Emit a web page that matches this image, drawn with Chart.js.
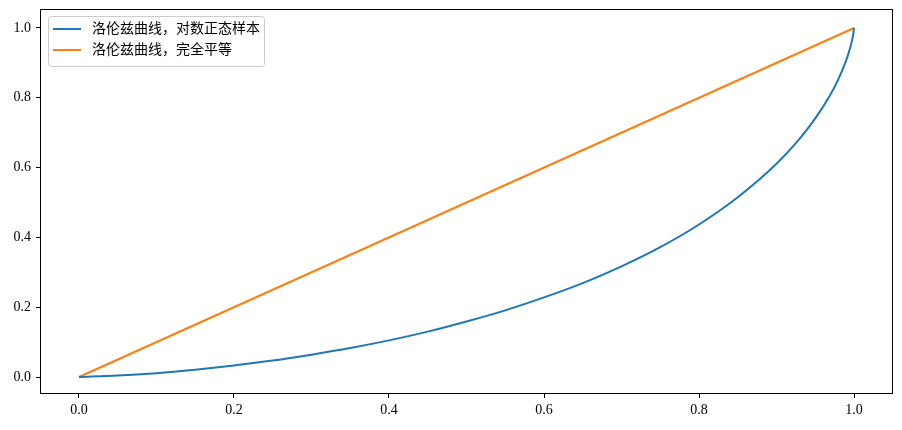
<!DOCTYPE html>
<html>
<head>
<meta charset="utf-8">
<script src="https://cdn.jsdelivr.net/npm/chart.js@4"></script>
<style>
  html, body { margin: 0; padding: 0; background: #fff; }
  #wrap { width: 902px; height: 430px; }
</style>
</head>
<body>
<div id="wrap"><canvas id="grafico"></canvas></div>
<script>
// dados
const nomes = ['洛伦兹曲线，对数正态样本', '洛伦兹曲线，完全平等'];
const cores = ['#1f77b4', '#ff7f0e'];

const xLorenz = [0, 0.05, 0.1, 0.15, 0.2, 0.25, 0.3, 0.35, 0.4, 0.45, 0.5, 0.55, 0.6,
  0.65, 0.7, 0.75, 0.8, 0.85, 0.9, 0.925, 0.95, 0.97, 0.98, 0.99, 0.995, 0.999, 1.0];
const yLorenz = [0, 0.004, 0.011, 0.021, 0.033, 0.047, 0.064, 0.083, 0.105, 0.130, 0.159, 0.191, 0.228,
  0.269, 0.317, 0.372, 0.437, 0.515, 0.611, 0.670, 0.741, 0.811, 0.854, 0.908, 0.943, 0.982, 1.0];

const xIgual = [0, 1];
const yIgual = [0, 1];

const ticksX = [0.0, 0.2, 0.4, 0.6, 0.8, 1.0];
const ticksY = [0.0, 0.2, 0.4, 0.6, 0.8, 1.0];

const fonte = "'Liberation Serif', 'DejaVu Serif', 'Noto Sans CJK SC', serif";

function pontos(xs, ys) {
  let out = [];
  for (let i = 0; i < xs.length; i++) {
    out.push({ x: xs[i], y: ys[i] });
  }
  return out;
}

// moldura + legenda no estilo matplotlib
const moldura = {
  id: 'moldura',
  afterDraw(chart) {
    const ctx = chart.ctx;
    const a = chart.chartArea;
    ctx.save();
    ctx.strokeStyle = '#000';
    ctx.lineWidth = 1;
    ctx.strokeRect(Math.round(a.left) + 0.5, Math.round(a.top) + 0.5,
      Math.round(a.right - a.left) - 1, Math.round(a.bottom - a.top) - 1);

    // legenda
    const bx = a.left + 8, by = a.top + 7, bw = 216, bh = 50;
    ctx.beginPath();
    ctx.roundRect(bx + 0.5, by + 0.5, bw, bh, 3);
    ctx.fillStyle = 'rgba(255,255,255,0.8)';
    ctx.fill();
    ctx.strokeStyle = '#cccccc';
    ctx.stroke();
    ctx.font = "14px " + fonte;
    ctx.textBaseline = 'middle';
    ctx.textAlign = 'left';
    chart.data.datasets.forEach((ds, i) => {
      const yy = by + 13 + i * 21;
      ctx.beginPath();
      ctx.moveTo(bx + 5, yy);
      ctx.lineTo(bx + 33, yy);
      ctx.strokeStyle = ds.borderColor;
      ctx.lineWidth = 2;
      ctx.stroke();
      ctx.fillStyle = '#000';
      ctx.fillText(ds.label, bx + 44, yy);
    });
    ctx.restore();
  }
};

const content = document.getElementById('grafico');
new Chart(content, {
  type: 'scatter',
  data: {
    datasets: [
      {
        label: nomes[0],
        data: pontos(xLorenz, yLorenz),
        showLine: true,
        borderColor: cores[0],
        borderWidth: 2,
        pointRadius: 0,
        cubicInterpolationMode: 'monotone'
      },
      {
        label: nomes[1],
        data: pontos(xIgual, yIgual),
        showLine: true,
        borderColor: cores[1],
        borderWidth: 2,
        pointRadius: 0
      },
    ]
  },
  options: {
    responsive: true,
    maintainAspectRatio: false,
    animation: false,
    layout: { padding: { top: 9, right: 9, left: 0, bottom: 0 } },
    plugins: {
      legend: { display: false },
      tooltip: { enabled: false }
    },
    scales: {
      x: {
        type: 'linear',
        min: -0.0503,
        max: 1.0503,
        afterFit(axis) { axis.height = 36; axis.paddingLeft = 0; axis.paddingRight = 0; },
        afterBuildTicks(axis) { axis.ticks = ticksX.map(v => ({ value: v })); },
        grid: { drawOnChartArea: false, tickLength: 4, tickColor: '#000', color: '#000' },
        border: { display: false },
        ticks: {
          color: '#000',
          padding: 4,
          maxRotation: 0,
          font: { family: fonte, size: 14 },
          callback: v => v.toFixed(1)
        }
      },
      y: {
        min: -0.0487,
        max: 1.0544,
        afterFit(axis) { axis.width = 40; axis.paddingTop = 0; axis.paddingBottom = 0; },
        afterBuildTicks(axis) { axis.ticks = ticksY.map(v => ({ value: v })); },
        grid: { drawOnChartArea: false, tickLength: 4, tickColor: '#000', color: '#000' },
        border: { display: false },
        ticks: {
          color: '#000',
          padding: 5,
          font: { family: fonte, size: 14 },
          callback: v => v.toFixed(1)
        }
      }
    }
  },
  plugins: [moldura]
});
</script>
</body>
</html>
